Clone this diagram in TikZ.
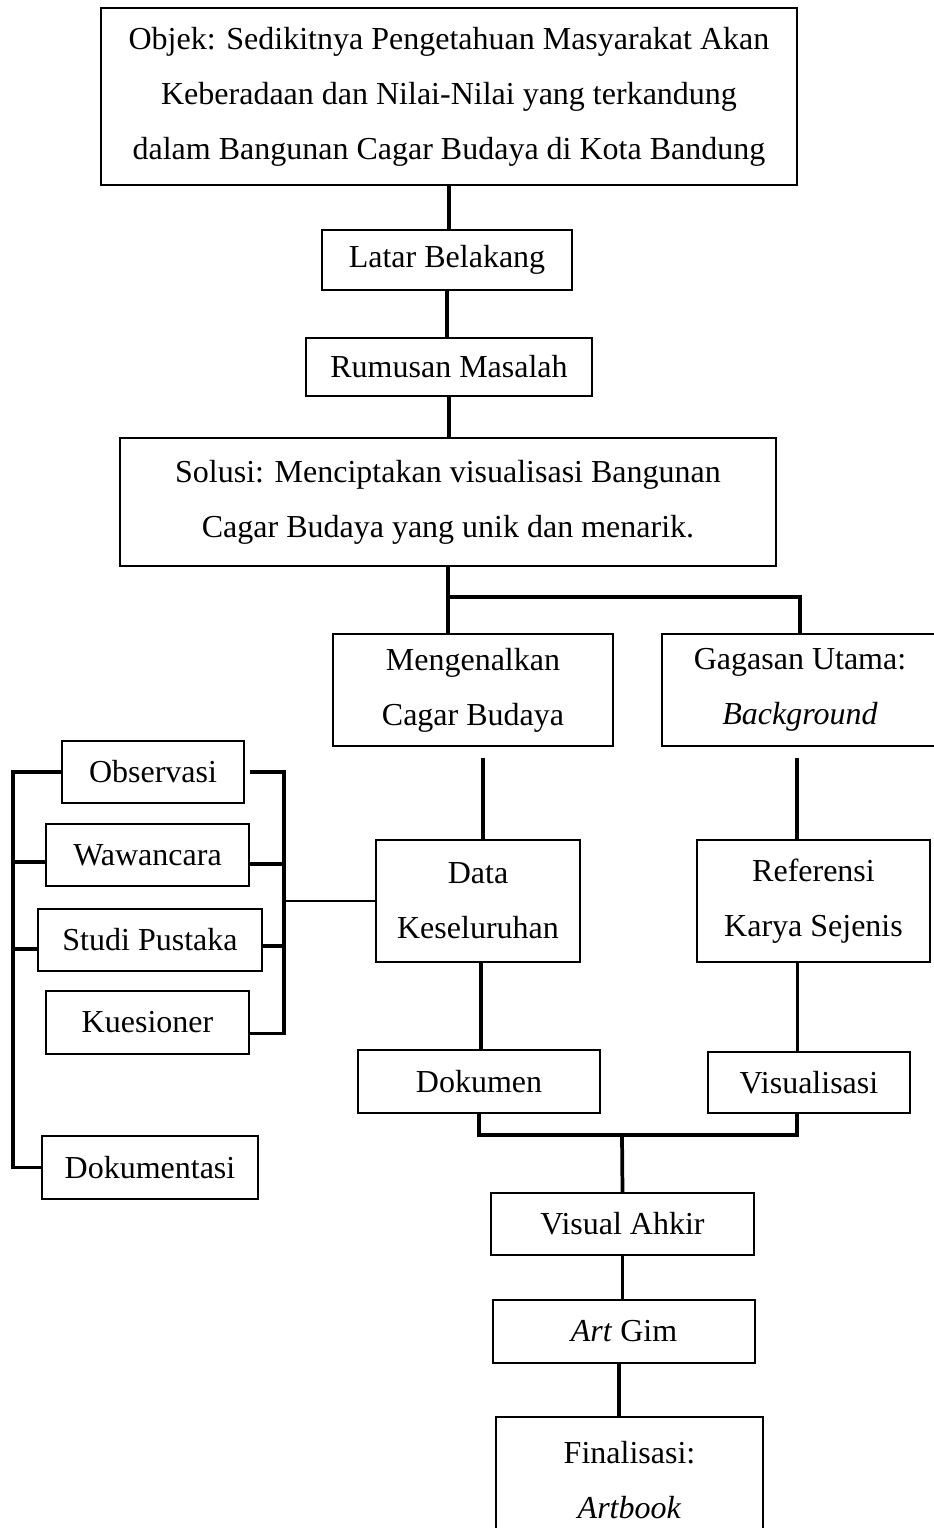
\documentclass[tikz,border=0pt]{standalone}
\usepackage{fontspec}
\setmainfont{Liberation Serif}
\usepackage{tikz}
\usetikzlibrary{calc}

\begin{document}
\begin{tikzpicture}[x=0.375pt,y=-0.375pt,
        box/.style={draw,line width=0.8pt,inner sep=0pt,align=center,
          font=\fontsize{12pt}{20.6pt}\selectfont},
        sz/.style 2 args={minimum width=#1*0.375pt,minimum height=#2*0.375pt},
        link/.style={line width=1.4pt}]
      \useasboundingbox (0,0) rectangle (934,1528);

      \node[box,sz={696}{177}] (objek)   at (449,96.5) {Objek: Sedikitnya Pengetahuan Masyarakat Akan\\Keberadaan dan Nilai-Nilai yang terkandung\\dalam Bangunan Cagar Budaya di Kota Bandung};
      \node[box,sz={250}{60}]  (latar)   at (447,260)  {Latar Belakang};
      \node[box,sz={286}{58}]  (rumusan) at (449,367)  {Rumusan Masalah};
      \node[box,sz={656}{128}] (solusi)  at (448,502)  {Solusi: Menciptakan visualisasi Bangunan\\Cagar Budaya yang unik dan menarik.};
      \node[box,sz={280}{112}] (kenal)   at (473,690)  {Mengenalkan\\Cagar Budaya};
      \node[box,sz={276}{112}] (gagasan) at (800,690)  {Gagasan Utama:\\\textit{Background}};
      \node[box,sz={204}{122}] (data)    at (478,901)  {Data\\Keseluruhan};
      \node[box,sz={233}{122}] (ref)     at (813.5,901) {Referensi\\Karya Sejenis};
      \node[box,sz={242}{63}]  (dok)     at (479,1081.5) {Dokumen};
      \node[box,sz={202}{61}]  (vis)     at (809,1082.5) {Visualisasi};
      \node[box,sz={263}{62}]  (akhir)   at (622.5,1224) {Visual Ahkir};
      \node[box,sz={262}{63}]  (art)     at (624,1331.5) {\textit{Art} Gim};
      \node[box,sz={267}{126}] (final)   at (629.5,1480) {Finalisasi:\\\textit{Artbook}};

      \node[box,sz={182}{62}]  (obs)     at (153,772)    {Observasi};
      \node[box,sz={203}{62}]  (waw)     at (147.5,855)  {Wawancara};
      \node[box,sz={224}{62}]  (studi)   at (150,940)    {Studi Pustaka};
      \node[box,sz={203}{63}]  (kues)    at (147.5,1022.5) {Kuesioner};
      \node[box,sz={216}{63}]  (dokm)    at (150,1167.5) {Dokumentasi};

      \coordinate (split) at (449,597);
      \coordinate (join)  at (622,1135);
      \coordinate (lbus)  at (13,0);
      \coordinate (rbus)  at (284,0);

      \draw[link] (objek.south) -- (objek.south |- latar.north);
      \draw[link] (latar.south) -- (latar.south |- rumusan.north);
      \draw[link] (rumusan.south) -- (rumusan.south |- solusi.north);
      \draw[link] (solusi.south) -- (solusi.south |- kenal.north);
      \draw[link] (split) -| (gagasan.north);
      \draw[link,shorten <=4pt] ($(kenal.south)+(10,0)$) -- ($(kenal.south |- data.north)+(10,0)$);
      \draw[link,shorten <=4pt] ($(gagasan.south)+(-3,0)$) -- ($(gagasan.south |- ref.north)+(-3,0)$);
      \draw[link] ($(data.south)+(3,0)$) -- ($(data.south |- dok.north)+(3,0)$);
      \draw[link] ($(ref.south)+(-16,0)$) -- ($(ref.south |- vis.north)+(-16,0)$);
      \draw[link] (dok.south) |- (join) -| ($(vis.south)+(-12,0)$);
      \draw[link] (join) -- (akhir.north);
      \draw[link] (akhir.south) -- (akhir.south |- art.north);
      \draw[link] ($(art.south)+(-5,0)$) -- ($(art.south |- final.north)+(-5,0)$);

      \draw[link] (obs.west) -- (obs.west -| lbus) -- (dokm.west -| lbus) -- (dokm.west);
      \draw[link] ($(waw.west)+(0,7)$) -- ($(waw.west -| lbus)+(0,7)$);
      \draw[link] ($(studi.west)+(0,9)$) -- ($(studi.west -| lbus)+(0,9)$);
      \draw[link,shorten <=2pt] (obs.east) -- (obs.east -| rbus) -- ($(kues.east -| rbus)+(0,11)$) -- ($(kues.east)+(0,11)$);
      \draw[link] ($(waw.east)+(0,9)$) -- ($(waw.east -| rbus)+(0,9)$);
      \draw[link] ($(studi.east)+(0,6)$) -- ($(studi.east -| rbus)+(0,6)$);
      \draw[line width=1.1pt] (rbus |- data.west) -- (data.west);
    \end{tikzpicture}
\end{document}
